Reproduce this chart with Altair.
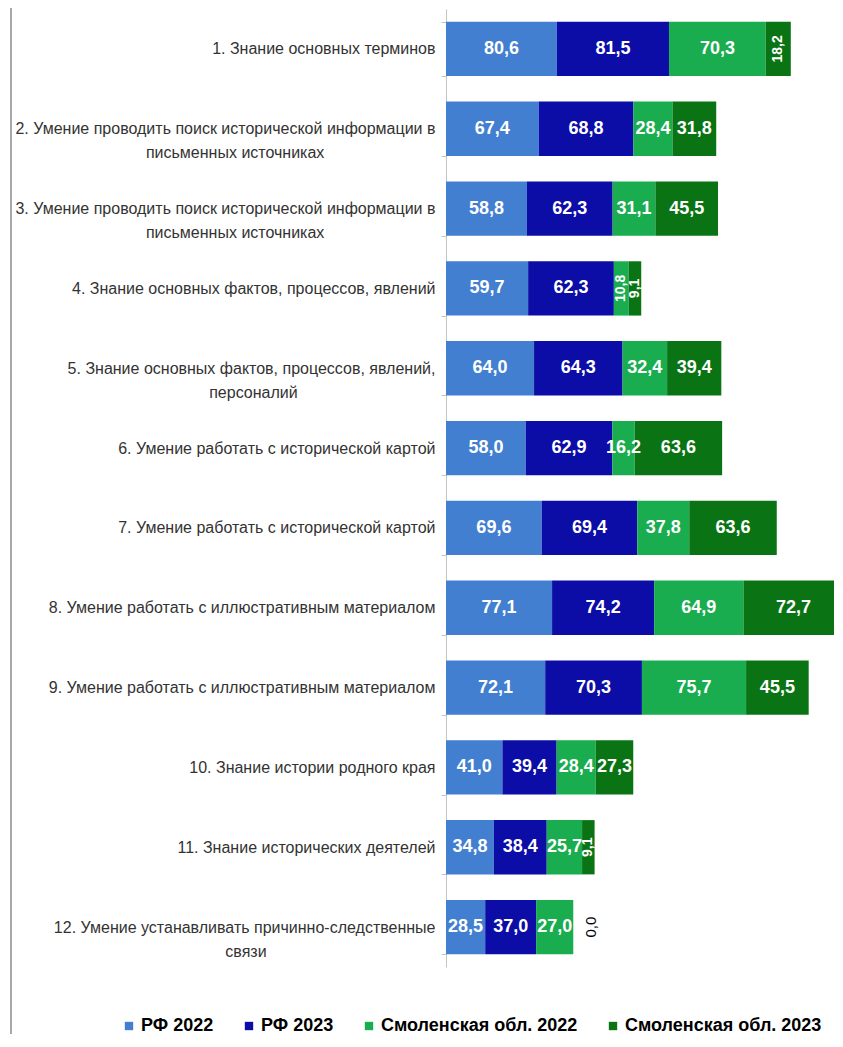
import altair as alt
import pandas as pd

categories = [
    "1. Знание основных терминов",
    "2. Умение проводить поиск исторической информации в|письменных источниках",
    "3. Умение проводить поиск исторической информации в|письменных источниках",
    "4. Знание основных фактов, процессов, явлений",
    "5. Знание основных фактов, процессов, явлений,|персоналий",
    "6. Умение работать с исторической картой",
    "7. Умение работать с исторической картой",
    "8. Умение работать с иллюстративным  материалом",
    "9. Умение работать с иллюстративным  материалом",
    "10. Знание истории родного края",
    "11. Знание исторических деятелей",
    "12. Умение устанавливать причинно-следственные|связи",
]
series = ["РФ 2022", "РФ 2023", "Смоленская обл. 2022", "Смоленская обл. 2023"]
rf_2022 = [80.6, 67.4, 58.8, 59.7, 64.0, 58.0, 69.6, 77.1, 72.1, 41.0, 34.8, 28.5]
rf_2023 = [81.5, 68.8, 62.3, 62.3, 64.3, 62.9, 69.4, 74.2, 70.3, 39.4, 38.4, 37.0]
smol_2022 = [70.3, 28.4, 31.1, 10.8, 32.4, 16.2, 37.8, 64.9, 75.7, 28.4, 25.7, 27.0]
smol_2023 = [18.2, 31.8, 45.5, 9.1, 39.4, 63.6, 63.6, 72.7, 45.5, 27.3, 9.1, 0.0]

colors = ["#437fd0", "#0c0ca6", "#19ad50", "#0a7415"]
# style: which value labels are drawn vertically, and centring pad for 2nd lines
ROTATED = {(0, 3), (3, 2), (3, 3), (10, 3), (11, 3)}
PAD = {1: 25, 2: 25, 4: 31, 11: 38}

display = []
for i, c in enumerate(categories):
    if i in PAD:
        display.append(c + "\u00a0" * PAD[i] + "\u200b")
    else:
        display.append(c)

rows = []
for si, vals in enumerate([rf_2022, rf_2023, smol_2022, smol_2023]):
    for ci, v in enumerate(vals):
        rows.append({"cat": display[ci], "series": series[si], "order": si,
                     "value": v, "rot": (ci, si) in ROTATED})
df = pd.DataFrame(rows)

FONT = "Liberation Sans"
xscale = alt.Scale(domain=[0, 282], nice=False, zero=True)
yscale = alt.Scale(paddingInner=0.32, paddingOuter=0.16)
ysort = display

bars = alt.Chart(df).mark_bar().encode(
    x=alt.X("value:Q", stack="zero", scale=xscale, axis=None),
    y=alt.Y("cat:N", sort=ysort, scale=yscale,
            axis=alt.Axis(title=None, labelExpr="split(datum.label, '|')",
                          labelFont=FONT, labelFontSize=16, labelColor="#333333",
                          labelLimit=600, labelLineHeight=24, labelPadding=6,
                          tickSize=5, tickColor="#c4c4c4", domainColor="#c4c4c4",
                          tickBand="extent")),
    color=alt.Color("series:N", scale=alt.Scale(domain=series, range=colors),
                    legend=alt.Legend(title=None, orient="none", legendX=-326, legendY=1008,
                                      direction="horizontal", labelFont=FONT,
                                      labelFontSize=18, labelFontWeight="bold",
                                      labelColor="black", symbolType="square",
                                      symbolSize=70, symbolStrokeWidth=0,
                                      columnPadding=26, labelOffset=3, labelLimit=400)),
    order=alt.Order("order:Q", sort="ascending"),
)

base = alt.Chart(df).transform_window(
    cum="sum(value)", groupby=["cat"], sort=[alt.SortField("order")], frame=[None, 0]
).transform_calculate(
    mid="datum.cum - datum.value / 2",
    lab="replace(format(datum.value, '.1f'), '.', ',')",
)

text_h = base.transform_filter("!datum.rot").mark_text(
    font=FONT, fontSize=18, fontWeight="bold", color="white"
).encode(x=alt.X("mid:Q", scale=xscale), y=alt.Y("cat:N", sort=ysort, scale=yscale), text="lab:N")

text_r = base.transform_filter("datum.rot && datum.value > 0").mark_text(
    font=FONT, fontSize=14, fontWeight="bold", color="white", angle=270
).encode(x=alt.X("mid:Q", scale=xscale), y=alt.Y("cat:N", sort=ysort, scale=yscale), text="lab:N")

text_z = base.transform_filter("datum.value == 0").mark_text(
    font=FONT, fontSize=15, color="black", angle=270, dy=18
).encode(x=alt.X("mid:Q", scale=xscale), y=alt.Y("cat:N", sort=ysort, scale=yscale), text="lab:N")

border = alt.Chart(alt.Data(values=[{"a": 1}])).mark_rule(
    color="#a8a8a8", strokeWidth=2
).encode(x=alt.value(-435), y=alt.value(-10), y2=alt.value(1030))

chart = alt.layer(bars, text_h, text_r, text_z, border).properties(
    width=388, height=958,
    autosize=alt.AutoSizeParams(type="none"),
    padding={"left": 438, "top": 1, "right": 0, "bottom": 67},
).configure_view(stroke=None)

chart.save("out.html", embed_options={"renderer": "svg", "actions": False})
